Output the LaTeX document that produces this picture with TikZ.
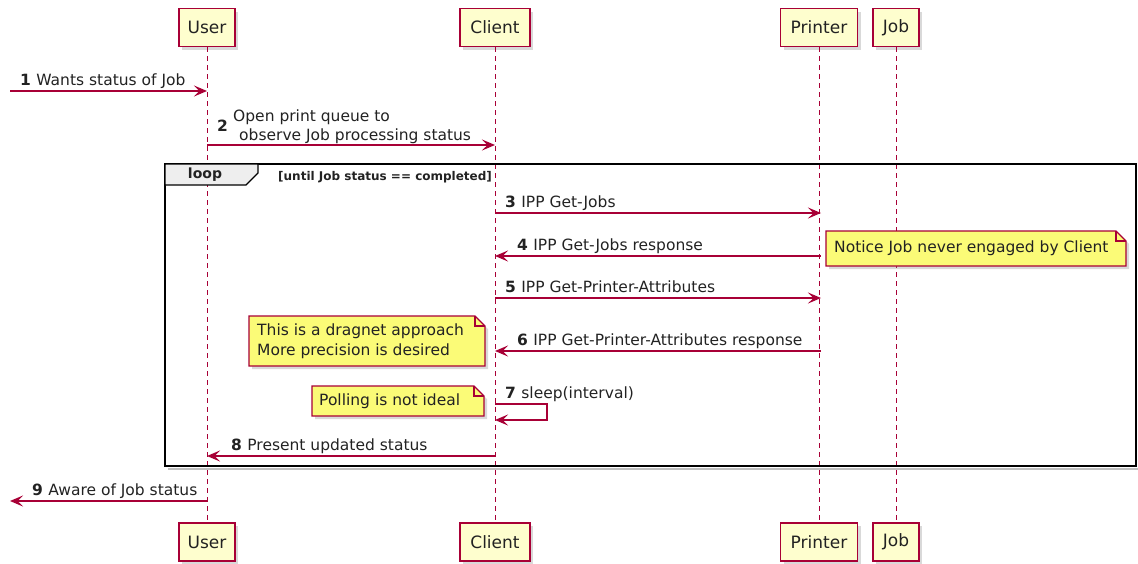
\documentclass[tikz,border=0pt]{standalone}
\usepackage{fontspec}
\setmainfont{DejaVu Sans}
\usetikzlibrary{arrows.meta,shadows,calc}
\definecolor{pb}{HTML}{A80036}
\definecolor{pf}{HTML}{FEFECE}
\definecolor{nf}{HTML}{FBFB77}
\definecolor{tabf}{HTML}{EEEEEE}
\definecolor{txt}{HTML}{222222}
\begin{document}
\begin{tikzpicture}[x=1pt,y=-1pt,
  part/.style={draw=pb, fill=pf, line width=1.6pt, minimum height=38pt, inner sep=0pt,
    text=txt, font=\fontsize{17}{18}\selectfont,
    drop shadow={shadow xshift=3pt,shadow yshift=-3pt,opacity=.3}},
  life/.style={draw=pb, line width=1pt, dash pattern=on 5pt off 4pt},
  msg/.style={draw=pb, line width=1.2pt, -{Stealth[length=13pt,width=11pt,inset=5.5pt]}},
  lbl/.style={anchor=base west, inner sep=0pt, text=txt, font=\fontsize{15.5}{18}\selectfont},
  num/.style={anchor=base west, inner sep=0pt, text=txt, font=\fontsize{15.5}{18}\selectfont\bfseries},
  notebg/.style={draw=pb, fill=nf, line width=1.1pt,
    drop shadow={shadow xshift=3pt,shadow yshift=-3pt,opacity=.3}},
  notefold/.style={draw=pb, line width=1.1pt},
  notetxt/.style={anchor=west, inner sep=0pt, align=left, text=txt, font=\fontsize{15.5}{20}\selectfont},
]
\useasboundingbox (0,0) rectangle (1138,563);

% participants
\node[part, minimum width=56pt] (userT) at (207,27.5) {User};
\node[part, minimum width=70pt] (clientT) at (495,27.5) {Client};
\node[part, minimum width=77pt] (printerT) at (819,27.5) {Printer};
\node[part, minimum width=46pt] (jobT) at (896,27.5) {Job};
\node[part, minimum width=56pt] (userB) at (207,542) {User};
\node[part, minimum width=70pt] (clientB) at (495,542) {Client};
\node[part, minimum width=77pt] (printerB) at (819,542) {Printer};
\node[part, minimum width=46pt] (jobB) at (896,542) {Job};

% lifelines
\draw[life] (userT.south) -- (userB.north);
\draw[life] (clientT.south) -- (clientB.north);
\draw[life] (printerT.south) -- (printerB.north);
\draw[life] (jobT.south) -- (jobB.north);

% loop frame
\draw[black!25, line width=2pt] (168,469) -- (1138,469);
\draw[black, line width=1.8pt] (165,164) rectangle (1136,466);
\draw[black, line width=1.3pt, fill=tabf] (165,164) -- (258,164) -- (258,173) -- (246,185) -- (165,185) -- cycle;
\node[inner sep=0pt, text=txt, font=\fontsize{14}{16}\selectfont\bfseries] (looplbl) at (205,175) {loop};
\node[anchor=base west, inner sep=0pt, text=txt, font=\fontsize{12}{14}\selectfont\bfseries] (loopcond) at (278,180) {[until Job status == completed]};

% message 1
\coordinate (m1a) at (10,91); \coordinate (m1b) at (207,91);
\draw[msg] (m1a) -- (m1b);
\node[num] (n1) at (20,85) {1};
\node[lbl] (t1) at ([xshift=5pt]n1.base east) {Wants status of Job};

% message 2
\coordinate (m2a) at (207,145); \coordinate (m2b) at (495,145);
\draw[msg] (m2a) -- (m2b);
\node[num] (n2) at (217,131) {2};
\node[lbl] (t2a) at (233,121) {Open print queue to};
\node[lbl] (t2b) at (239,140) {observe Job processing status};

% message 3
\coordinate (m3a) at (495,213); \coordinate (m3b) at (821,213);
\draw[msg] (m3a) -- (m3b);
\node[num] (n3) at (505,207) {3};
\node[lbl] (t3) at ([xshift=5pt]n3.base east) {IPP Get-Jobs};

% message 4
\coordinate (m4a) at (821,256); \coordinate (m4b) at (495,256);
\draw[msg] (m4a) -- (m4b);
\node[num] (n4) at (517,250) {4};
\node[lbl] (t4) at ([xshift=5pt]n4.base east) {IPP Get-Jobs response};

% message 5
\coordinate (m5a) at (495,298); \coordinate (m5b) at (821,298);
\draw[msg] (m5a) -- (m5b);
\node[num] (n5) at (505,292) {5};
\node[lbl] (t5) at ([xshift=5pt]n5.base east) {IPP Get-Printer-Attributes};

% message 6
\coordinate (m6a) at (821,351); \coordinate (m6b) at (495,351);
\draw[msg] (m6a) -- (m6b);
\node[num] (n6) at (517,345) {6};
\node[lbl] (t6) at ([xshift=5pt]n6.base east) {IPP Get-Printer-Attributes response};

% message 7 (self)
\coordinate (m7a) at (495,404); \coordinate (m7b) at (495,420);
\draw[msg] (m7a) -- (547,404) -- (547,420) -- (m7b);
\node[num] (n7) at (505,398) {7};
\node[lbl] (t7) at ([xshift=5pt]n7.base east) {sleep(interval)};

% message 8
\coordinate (m8a) at (495,456); \coordinate (m8b) at (207,456);
\draw[msg] (m8a) -- (m8b);
\node[num] (n8) at (231,450) {8};
\node[lbl] (t8) at ([xshift=5pt]n8.base east) {Present updated status};

% message 9
\coordinate (m9a) at (207,501); \coordinate (m9b) at (10,501);
\draw[msg] (m9a) -- (m9b);
\node[num] (n9) at (32,495) {9};
\node[lbl] (t9) at ([xshift=5pt]n9.base east) {Aware of Job status};

% note A
\path[notebg] (826,231) -- (1116,231) -- (1126,241) -- (1126,266) -- (826,266) -- cycle;
\draw[notefold] (1116,231) -- (1116,241) -- (1126,241);
\node[notetxt] (noteA) at (834,248) {Notice Job never engaged by Client};

% note B
\path[notebg] (249,316) -- (475,316) -- (485,326) -- (485,366) -- (249,366) -- cycle;
\draw[notefold] (475,316) -- (475,326) -- (485,326);
\node[notetxt] (noteB) at (257,341) {This is a dragnet approach\\More precision is desired};

% note C
\path[notebg] (312,386) -- (474,386) -- (484,396) -- (484,416) -- (312,416) -- cycle;
\draw[notefold] (474,386) -- (474,396) -- (484,396);
\node[notetxt] (noteC) at (319,401) {Polling is not ideal};
\end{tikzpicture}
\end{document}
